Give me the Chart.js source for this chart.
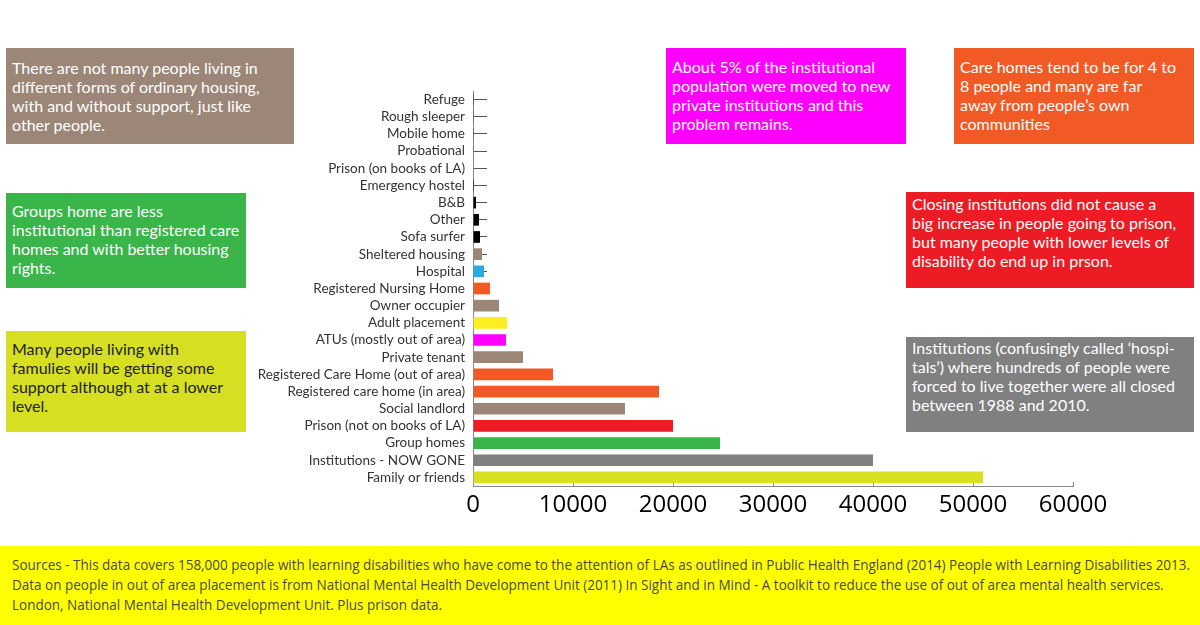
<!DOCTYPE html>
<html>
<head>
<meta charset="utf-8">
<script src="https://cdn.jsdelivr.net/npm/chart.js@4/dist/chart.umd.min.js"></script>
<style>
  body { margin: 0; background: #fff; }
  #wrap { position: relative; width: 1200px; height: 625px; overflow: hidden; font-family: Lato, "Noto Sans", sans-serif; }
  #chart { position: absolute; left: 0; top: 0; }
  .note { position: absolute; color: #fff; font-size: 16px; line-height: 19px; padding-left: 6px; box-sizing: border-box; white-space: nowrap; }
  #foot { position: absolute; left: 0; top: 546px; width: 1200px; height: 79px; background: #ffff00; }
  #foot div { position: absolute; left: 12px; top: 9px; white-space: nowrap; transform-origin: 0 0; transform: scaleX(0.93);
              font-family: "Open Sans", sans-serif; font-size: 14.5px; line-height: 20px; color: #4a4a4a; }
</style>
</head>
<body>
<div id="wrap">
  <canvas id="chart" width="1200" height="546"></canvas>

  <div class="note" style="left:6px;top:48px;width:288px;height:96px;background:#9b8678;padding-top:10px">There are not many people living in<br>different forms of ordinary housing,<br>with and without support, just like<br>other people.</div>
  <div class="note" style="left:6px;top:193px;width:240px;height:95px;background:#39b54a;padding-top:8px">Groups home are less<br>institutional than registered care<br>homes and with better housing<br>rights.</div>
  <div class="note" style="left:6px;top:331px;width:240px;height:101px;background:#d7df23;color:#222;padding-top:8px">Many people living with<br>famulies will be getting some<br>support although at at a lower<br>level.</div>
  <div class="note" style="left:666px;top:48px;width:240px;height:96px;background:#ff00ff;padding-top:9px">About 5% of the institutional<br>population were moved to new<br>private institutions and this<br>problem remains.</div>
  <div class="note" style="left:954px;top:48px;width:240px;height:96px;background:#f15a24;padding-top:9px">Care homes tend to be for 4 to<br>8 people and many are far<br>away from people’s own<br>communities</div>
  <div class="note" style="left:906px;top:192px;width:288px;height:96px;background:#ed1c24;padding-top:2px">Closing institutions did not cause a<br>big increase in people going to prison,<br>but many people with lower levels of<br>disability do end up in prson.</div>
  <div class="note" style="left:906px;top:337px;width:288px;height:95px;background:#808080;padding-top:1px">Institutions (confusingly called ‘hospi-<br>tals’) where hundreds of people were<br>forced to live together were all closed<br>between 1988 and 2010.</div>

  <div id="foot"><div>Sources - This data covers 158,000 people with learning disabilities who have come to the attention of LAs as outlined in Public Health England (2014) People with Learning Disabilities 2013.<br>Data on people in out of area placement is from National Mental Health Development Unit (2011) In Sight and in Mind - A toolkit to reduce the use of out of area mental health services.<br>London, National Mental Health Development Unit. Plus prison data.</div></div>
</div>

<script>
// categorías de alojamiento, de arriba a abajo
const categorias = [
  'Refuge', 'Rough sleeper', 'Mobile home', 'Probational', 'Prison (on books of LA)',
  'Emergency hostel', 'B&B', 'Other', 'Sofa surfer', 'Sheltered housing', 'Hospital',
  'Registered Nursing Home', 'Owner occupier', 'Adult placement', 'ATUs (mostly out of area)',
  'Private tenant', 'Registered Care Home (out of area)', 'Registered care home (in area)',
  'Social landlord', 'Prison (not on books of LA)', 'Group homes', 'Institutions - NOW GONE',
  'Family or friends'
]
// número de personas
const personas = [
  20, 30, 30, 40, 50,
  100, 300, 600, 700, 900, 1100,
  1700, 2600, 3400, 3300,
  5000, 8000, 18600,
  15200, 20000, 24700, 40000,
  51000
]
const colores = [
  '#000000', '#000000', '#000000', '#000000', '#000000',
  '#000000', '#000000', '#000000', '#000000', '#9b8678', '#29abe2',
  '#f15a24', '#9b8678', '#fcee21', '#ff00ff',
  '#9b8678', '#f15a24', '#f15a24',
  '#9b8678', '#ed1c24', '#39b54a', '#808080',
  '#d9e021'
]
const ticksX = [0, 10000, 20000, 30000, 40000, 50000, 60000]

const ctx = document.getElementById('chart')
new Chart(ctx, {
  type: 'bar',
  data: {
    labels: categorias,
    datasets: [{
      data: personas,
      backgroundColor: colores,
      barPercentage: 0.68,
      categoryPercentage: 1
    }]
  },
  options: {
    indexAxis: 'y',
    responsive: false,
    animation: false,
    layout: { padding: { top: 91, right: 127, left: 0, bottom: 0 } },
    plugins: { legend: { display: false }, tooltip: { enabled: false } },
    scales: {
      x: {
        min: 0,
        max: 60000,
        afterBuildTicks: (scale) => { scale.ticks = ticksX.map(v => ({ value: v })) },
        afterFit: (scale) => { scale.height = 60 },
        grid: { drawOnChartArea: false, tickLength: -4, color: '#888' },
        border: { color: '#888', width: 1 },
        ticks: { color: '#000', padding: 9, font: { family: 'Open Sans', size: 24 }, callback: (v) => String(v) }
      },
      y: {
        afterFit: (scale) => { scale.width = 473 },
        grid: { drawOnChartArea: false, offset: false, tickLength: -14, color: '#555' },
        border: { color: '#888', width: 1 },
        ticks: { color: '#333', padding: 22, autoSkip: false, font: { family: 'Lato', size: 13.5 } }
      }
    }
  }
})
</script>
</body>
</html>
